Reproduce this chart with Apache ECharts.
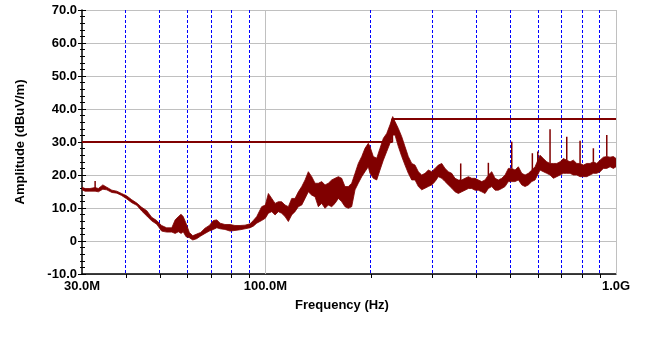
<!DOCTYPE html>
<html>
<head>
<meta charset="utf-8">
<script src="https://cdn.jsdelivr.net/npm/echarts@6/dist/echarts.min.js"></script>
<style>
html,body{margin:0;padding:0;background:#fff;}
#chart{width:652px;height:359px;}
</style>
</head>
<body>
<div id="chart"></div>
<script>
// ---- data ----
const freqMHz = [
  30, 30.6, 31.6, 32.7, 33.4, 34.4, 35.3, 36.5, 37.7, 38.9, 40.2, 41.6, 43.0, 44.4, 45.9, 47.4, 49.0, 50.6, 52.3, 54.1, 55.3, 56.5, 57.5, 58.3, 59.4, 60.7, 62.1, 63.7, 65.4, 67.3, 69.2, 71.1, 72.7, 74.3, 76.7, 79.3, 81.9, 84.7, 87.5, 90.4, 92.4, 94.5, 97.6,
  100.0, 102.0, 104.3, 106.6, 108.9, 111.3, 113.8, 116.3, 118.9, 121.5, 124.2, 127.0, 129.8, 132.6, 135.6, 138.6, 141.6, 144.8, 148.0, 151.2, 154.6, 158.0, 161.5, 165.1, 168.7, 172.4, 176.3,
  180.2, 184.1, 188.3, 192.4, 196.6, 198.8, 203.2, 207.8, 212.3, 217.0, 221.9, 226.7, 230.8, 234.3, 239.5, 244.9, 250.2, 255.7, 261.5, 267.2, 273.1, 279.2, 285.3, 291.6, 298.2, 304.8, 311.4, 318.5, 325.4, 332.6, 340.1,
  347.5, 355.2, 363.2, 371.1, 379.3, 387.8, 396.3, 405.0, 414.1, 423.2, 432.5, 442.3, 451.9, 461.8, 472.3, 482.6, 493.2, 504.3, 515.4, 526.7, 538.6, 550.4, 562.4, 575.1, 587.7,
  607.3, 620.6, 634.6, 648.5, 662.8, 677.7, 692.6, 707.8, 723.7, 739.6, 755.8, 772.9, 789.8, 807.1, 825.3, 843.4, 861.9, 881.3, 900.6, 920.4, 941.2, 961.8, 982.9, 1000
];
const highDb = [
  16.3, 15.9, 15.9, 16.2, 15.9, 17.0, 16.3, 15.4, 15.1, 14.4, 13.7, 12.5, 11.5, 10.2, 9.2, 7.2, 6.2, 4.7, 4.0, 4.0, 6.4, 7.4, 8.1, 7.4, 5.4, 2.6, 1.6, 2.1, 2.6, 3.9, 4.7, 6.2, 6.4, 5.4, 5.0, 5.0, 4.7, 4.7, 4.8, 5.2, 6.2, 7.4, 10.4,
  10.9, 14.4, 12.9, 11.4, 11.9, 11.9, 10.9, 10.4, 12.9, 12.9, 14.9, 16.5, 18.5, 21.0, 19.5, 17.5, 17.5, 18.0, 17.0, 17.5, 18.5, 19.0, 19.5, 19.0, 16.5, 16.5, 17.5,
  20.5, 23.5, 25.6, 28.1, 29.6, 28.6, 25.6, 25.1, 28.1, 31.1, 32.6, 35.2, 37.7, 36.2, 34.1, 31.6, 28.6, 25.6, 23.5, 23.0, 21.0, 20.0, 20.5, 21.5, 21.0, 22.0, 23.0, 23.5, 22.0, 21.0, 20.5,
  19.0, 18.5, 18.5, 19.0, 19.5, 19.0, 19.0, 18.5, 18.0, 18.5, 20.0, 21.0, 19.0, 18.5, 19.0, 20.0, 22.0, 22.0, 21.5, 22.5, 20.5, 20.0, 20.5, 21.5, 22.5,
  26.0, 25.0, 24.0, 23.5, 23.5, 23.5, 24.0, 25.0, 24.5, 24.0, 24.5, 23.5, 23.5, 23.0, 23.5, 23.5, 24.0, 23.5, 24.5, 25.4, 25.6, 25.4, 25.6, 25.0
];
const lowDb = [
  15.5, 15.1, 15.1, 15.1, 14.9, 15.7, 15.5, 14.7, 14.5, 13.8, 12.8, 11.6, 10.8, 9.1, 7.6, 6.1, 5.1, 3.0, 2.7, 2.7, 2.3, 2.8, 2.3, 2.8, 1.3, 1.0, 0.3, 0.7, 1.5, 2.3, 3.0, 3.5, 4.0, 3.7, 3.5, 3.0, 3.2, 3.4, 3.7, 4.0, 4.5, 5.4, 6.2,
  6.9, 8.4, 8.9, 7.9, 8.9, 8.4, 7.4, 5.9, 7.9, 8.9, 10.4, 10.9, 12.9, 14.9, 13.9, 13.4, 10.4, 11.4, 9.9, 10.9, 10.4, 11.4, 12.9, 11.9, 10.4, 9.9, 10.4,
  15.5, 17.5, 19.5, 21.0, 22.5, 20.5, 19.0, 18.5, 21.5, 24.5, 27.1, 29.6, 32.1, 32.1, 28.6, 25.6, 23.0, 20.5, 18.5, 18.5, 16.5, 15.5, 16.0, 16.5, 17.0, 18.0, 19.5, 19.0, 18.0, 17.0, 16.0,
  14.9, 14.4, 14.9, 15.4, 15.9, 15.9, 15.4, 15.4, 14.9, 14.4, 15.9, 16.5, 15.4, 15.4, 15.9, 16.5, 18.0, 18.0, 18.0, 18.5, 17.0, 16.5, 17.0, 18.0, 18.5,
  21.5, 21.0, 20.5, 20.0, 19.0, 19.5, 20.0, 20.5, 20.5, 20.5, 20.0, 20.0, 19.5, 19.5, 19.5, 20.0, 20.5, 20.5, 21.0, 22.0, 22.0, 22.5, 22.0, 22.5
];
// narrow spikes rising above the band
const spikeFreq = [32.7, 360.7, 432.5, 504.3, 577.4, 598.2, 648.5, 723.7, 789.8, 861.9, 941.2];
const spikeBase = [16.0, 18.5, 20.0, 22.0, 21.5, 22.5, 23.5, 24.5, 23.5, 24.0, 25.6];
const spikeTop  = [18.2, 23.5, 23.7, 30.1, 26.6, 27.1, 33.9, 31.6, 30.4, 28.1, 32.1];
// limit line
const limitFreq = [30, 230, 230, 1000];
const limitDb   = [30, 30, 37, 37];
// axis ticks / labels / gridlines
const xLabelValues = [30, 100, 1000];
const xLabelTexts  = ['30.0M', '100.0M', '1.0G'];
const dottedFreqs = [40, 50, 60, 70, 80, 90, 200, 300, 400, 500, 600, 700, 800, 900];
const solidFreqs = [100, 1000];
const yMin = -10, yMax = 70, yStep = 10;

const FONT = "'Liberation Sans', Arial, sans-serif";
const chart = echarts.init(document.getElementById('chart'), null, {renderer: 'canvas'});

function vLineSeries(name, freqs, style) {
  return {
    type: 'custom', name: name, z: 1, silent: true, clip: false,
    data: freqs.map(f => [f]),
    encode: {x: 0},
    renderItem: (params, api) => {
      const top = api.coord([api.value(0), yMax]);
      const bot = api.coord([api.value(0), yMin]);
      const x = Math.round(top[0] - 0.5) + 0.5;
      return {type: 'line', shape: {x1: x, y1: top[1], x2: x, y2: bot[1]}, style: Object.assign({}, style)};
    }
  };
}

const option = {
  animation: false,
  backgroundColor: '#ffffff',
  grid: {left: 82, right: 36, top: 10, bottom: 85, containLabel: false, outerBoundsMode: 'none'},
  xAxis: {
    type: 'log', logBase: 10, min: 30, max: 1000,
    name: 'Frequency (Hz)', nameLocation: 'middle', nameGap: 25,
    nameTextStyle: {fontFamily: FONT, fontWeight: 'bold', fontSize: 13, color: '#000', padding: [0, 14, 0, 0]},
    axisLine: {onZero: false, lineStyle: {color: '#000', width: 1.5}},
    axisTick: {show: true, customValues: dottedFreqs, length: 4, lineStyle: {color: '#000', width: 1}},
    minorTick: {show: false},
    minorSplitLine: {show: false},
    axisLabel: {
      customValues: xLabelValues, margin: 6,
      fontFamily: FONT, fontWeight: 'bold', fontSize: 13, color: '#000',
      formatter: v => { const i = xLabelValues.findIndex(x => Math.abs(x - v) < 1e-6 * x); return i >= 0 ? xLabelTexts[i] : ''; }
    },
    splitLine: {show: false}
  },
  yAxis: [{
    type: 'value', min: yMin, max: yMax, interval: yStep,
    name: 'Amplitude (dBuV/m)', nameLocation: 'middle', nameGap: 55,
    nameTextStyle: {fontFamily: FONT, fontWeight: 'bold', fontSize: 13, color: '#000'},
    axisLine: {show: true, lineStyle: {color: '#000', width: 1.5}},
    axisTick: {show: true, inside: false, length: 4, lineStyle: {color: '#000', width: 1}},
    minorTick: {show: true, splitNumber: 5, length: 2, lineStyle: {color: '#000', width: 1}},
    axisLabel: {margin: 5, fontFamily: FONT, fontWeight: 'bold', fontSize: 13, color: '#000',
      formatter: v => v === 0 ? '0' : v.toFixed(1)},
    splitLine: {show: true, lineStyle: {color: '#c0c0c0', width: 1}}
  }, {
    type: 'value', min: yMin, max: yMax, interval: yStep, position: 'left', offset: 0,
    axisLine: {show: false},
    axisTick: {show: true, inside: true, length: 4, lineStyle: {color: '#000', width: 1}},
    minorTick: {show: true, splitNumber: 5, length: 3, lineStyle: {color: '#000', width: 1}},
    axisLabel: {show: false},
    splitLine: {show: false}
  }],
  series: [
    vLineSeries('dotted grid', dottedFreqs, {stroke: '#0000ff', lineWidth: 1, lineDash: [3, 2]}),
    vLineSeries('solid grid', solidFreqs, {stroke: '#c0c0c0', lineWidth: 1}),
    {
      type: 'line', name: 'limit', z: 2, silent: true, symbol: 'none',
      data: limitFreq.map((f, i) => [f, limitDb[i]]),
      lineStyle: {color: '#800000', width: 2}
    },
    {
      type: 'custom', name: 'trace', z: 3, silent: true, clip: true,
      data: freqMHz.map((f, i) => [f, lowDb[i], highDb[i]]),
      encode: {x: 0, y: [1, 2]},
      renderItem: (params, api) => {
        if (params.dataIndex !== 0) return null;
        const pts = [];
        for (let i = 0; i < freqMHz.length; i++) pts.push(api.coord([freqMHz[i], highDb[i]]));
        for (let i = freqMHz.length - 1; i >= 0; i--) pts.push(api.coord([freqMHz[i], lowDb[i]]));
        return {type: 'polygon', shape: {points: pts}, style: {fill: '#800000', stroke: '#800000', lineWidth: 0.8}};
      }
    },
    {
      type: 'custom', name: 'spikes', z: 3, silent: true, clip: true,
      data: spikeFreq.map((f, i) => [f, spikeBase[i], spikeTop[i]]),
      encode: {x: 0, y: [1, 2]},
      renderItem: (params, api) => {
        const a = api.coord([api.value(0), api.value(1)]);
        const b = api.coord([api.value(0), api.value(2)]);
        return {type: 'line', shape: {x1: a[0], y1: a[1], x2: b[0], y2: b[1]}, style: {stroke: '#800000', lineWidth: 1.5}};
      }
    }
  ]
};
chart.setOption(option);
</script>
</body>
</html>
